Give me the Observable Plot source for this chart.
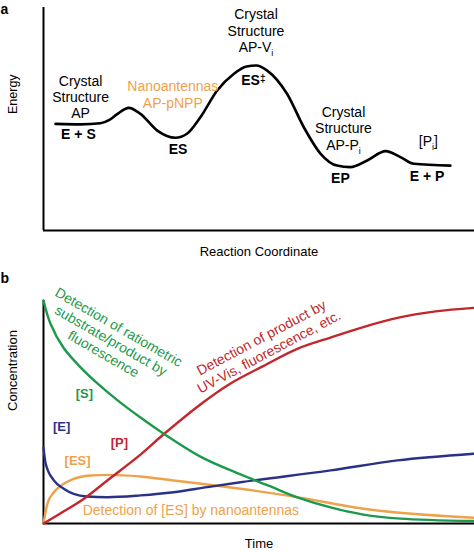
<!DOCTYPE html>
<html>
<head>
<meta charset="utf-8">
<script src="https://cdn.jsdelivr.net/npm/d3@7"></script>
<script src="https://cdn.jsdelivr.net/npm/@observablehq/plot@0.6"></script>
<style>
  body { margin: 0; background: white; }
  #chart { width: 474px; }
  #chart svg { display: block; }
</style>
</head>
<body>
<div id="chart"></div>
<script>
// ---------- Panel a: energy diagram ----------
const reactionCoord = [2.8, 8.6, 13.2, 15.3, 17.1, 19.8, 22.5, 26.4, 30.6, 33.3, 36.4, 40.3, 44.2, 47.1, 49.4, 51.9, 56.5, 60.4, 64.3, 68.1, 71.2, 75.1, 79.4, 82.8, 85.9, 94.4];
const energy        = [47.8, 47.6, 48.1, 49.6, 52.2, 55.0, 52.3, 44.8, 41.6, 43.4, 50.8, 62.8, 70.3, 73.5, 74.0, 71.7, 61.3, 46.3, 34.4, 29.1, 28.4, 31.4, 35.6, 32.9, 29.9, 29.1];

// ---------- Panel b: concentrations vs time ----------
const sTime = [0, 1.6, 4.6, 8.6, 12.5, 17.2, 22.5, 27.8, 36.4, 45.7, 52.7, 58.9, 66.6, 74.2, 82.8, 99.8];
const sConc = [100, 89.7, 78.9, 70.0, 62.8, 55.2, 47.5, 40.4, 30.0, 22.0, 16.6, 11.7, 7.2, 4.0, 2.2, 1.1];

const pTime = [0, 3.9, 9.3, 14.8, 22.5, 27.8, 36.4, 43.4, 51.0, 58.9, 66.6, 74.2, 82.1, 91.0, 99.8];
const pConc = [0, 4.5, 11.0, 19.3, 30.9, 39.9, 53.4, 62.8, 70.6, 78.3, 83.4, 88.1, 92.2, 95.1, 96.7];

const eTime = [0, 0.5, 2.4, 4.7, 7.0, 10.1, 14.8, 22.5, 30.2, 38.0, 45.7, 66.6, 82.1, 99.8];
const eConc = [34.1, 26.9, 19.3, 15.6, 13.3, 12.1, 11.8, 12.6, 14.0, 16.3, 18.5, 23.8, 28.3, 31.3];

const esTime = [0, 0.9, 2.4, 4.7, 7.0, 10.9, 14.8, 22.5, 30.2, 38.0, 45.7, 58.9, 74.3, 99.8];
const esConc = [0, 8.8, 14.0, 17.8, 20.0, 21.5, 21.8, 21.1, 19.3, 17.5, 15.6, 11.8, 6.6, 2.6];

const FONT = "'Liberation Sans', Arial, Helvetica, sans-serif";
const GREEN = "#1c9a4c", RED = "#c1272d", BLUE = "#2b3187", ORANGE = "#eea24c";

const toRows = (xs, ys) => xs.map((x, i) => ({x, y: ys[i]}));
const label = (text, x, y, opts = {}) => Plot.text([text], {x, y, text: d => d, fontSize: 14, ...opts});

const plotA = Plot.plot({
  width: 474, height: 262,
  marginLeft: 43, marginRight: 0, marginTop: 7, marginBottom: 32,
  x: {domain: [0, 100], axis: null},
  y: {domain: [0, 100], axis: null},
  style: {fontFamily: FONT, background: "white", overflow: "visible"},
  marks: [
    Plot.ruleX([0], {stroke: "black", strokeWidth: 2}),
    Plot.ruleY([0], {stroke: "black", strokeWidth: 2}),
    Plot.line(toRows(reactionCoord, energy), {x: "x", y: "y", curve: "monotone-x", stroke: "black", strokeWidth: 2.6}),
    label("Crystal\nStructure\nAP", 8.6, 59.8, {lineHeight: 1.15}),
    label("E + S", 8.1, 43.0, {fontWeight: "bold"}),
    label("Nanoantennas\nAP-pNPP", 30.0, 61.0, {lineHeight: 1.2, fill: ORANGE}),
    label("ES", 31.2, 36.3, {fontWeight: "bold"}),
    label("Crystal\nStructure\nAP-V_i", 49.3, 89.7, {lineHeight: 1.18}),
    label("ES‡", 48.7, 67.3, {fontWeight: "bold"}),
    label("Crystal\nStructure\nAP-P_i", 69.6, 45.9, {lineHeight: 1.18}),
    label("EP", 68.9, 23.5, {fontWeight: "bold"}),
    label("[P_i]", 89.3, 39.9),
    label("E + P", 89.0, 24.2, {fontWeight: "bold"}),
    Plot.text(["Energy"], {frameAnchor: "left", rotate: -90, dx: -30.5, dy: -5, fontSize: 12.5}),
    Plot.text(["Reaction Coordinate"], {frameAnchor: "bottom", dy: 25, fontSize: 13}),
    Plot.text(["a"], {frameAnchor: "top-left", textAnchor: "start", dx: -43, dy: -3.5, fontSize: 14, fontWeight: "bold"})
  ]
});

const plotB = Plot.plot({
  width: 474, height: 290,
  marginLeft: 43, marginRight: 0, marginTop: 38, marginBottom: 29,
  x: {domain: [0, 100], axis: null},
  y: {domain: [0, 100], axis: null},
  style: {fontFamily: FONT, background: "white", overflow: "visible"},
  marks: [
    Plot.ruleX([0], {stroke: "black", strokeWidth: 2}),
    Plot.ruleY([0], {stroke: "black", strokeWidth: 2}),
    Plot.line(toRows(esTime, esConc), {x: "x", y: "y", curve: "monotone-x", stroke: ORANGE, strokeWidth: 2.4}),
    Plot.line(toRows(eTime, eConc), {x: "x", y: "y", curve: "monotone-x", stroke: BLUE, strokeWidth: 2.4}),
    Plot.line(toRows(pTime, pConc), {x: "x", y: "y", curve: "catmull-rom", stroke: RED, strokeWidth: 2.4}),
    Plot.line(toRows(sTime, sConc), {x: "x", y: "y", curve: "catmull-rom", stroke: GREEN, strokeWidth: 2.4}),
    label("Detection of ratiometric\nsubstrate/product by\nfluorescence", 15.7, 82.1, {rotate: 30, lineHeight: 1.1, fill: GREEN}),
    label("Detection of product by\nUV-Vis, fluorescence, etc.", 51.4, 80.3, {rotate: -28, lineHeight: 1.15, fill: RED}),
    label("[S]", 9.5, 58.3, {fontWeight: "bold", fontSize: 13, fill: GREEN}),
    label("[E]", 4.2, 43.5, {fontWeight: "bold", fontSize: 13, fill: BLUE}),
    label("[P]", 17.6, 36.3, {fontWeight: "bold", fontSize: 13, fill: RED}),
    label("[ES]", 7.9, 28.3, {fontWeight: "bold", fontSize: 13, fill: ORANGE}),
    label("Detection of [ES] by nanoantennas", 34.2, 5.8, {fill: ORANGE}),
    Plot.text(["Concentration"], {frameAnchor: "left", rotate: -90, dx: -30.5, dy: -1, fontSize: 13}),
    Plot.text(["Time"], {frameAnchor: "bottom", dy: 24, fontSize: 13}),
    Plot.text(["b"], {frameAnchor: "top-left", textAnchor: "start", dx: -43, dy: -27.5, fontSize: 14, fontWeight: "bold"})
  ]
});

// subscripts / superscripts
function richText(svg) {
  const ns = "http://www.w3.org/2000/svg";
  const walker = document.createTreeWalker(svg, NodeFilter.SHOW_TEXT);
  const nodes = [];
  while (walker.nextNode()) {
    const v = walker.currentNode.nodeValue;
    if (v.includes("_i") || v.includes("‡")) nodes.push(walker.currentNode);
  }
  for (const node of nodes) {
    const parent = node.parentNode;
    const v = node.nodeValue;
    if (v.includes("_i")) {
      const [before, after] = v.split("_i");
      parent.insertBefore(document.createTextNode(before), node);
      const sub = document.createElementNS(ns, "tspan");
      sub.setAttribute("font-size", "9");
      sub.setAttribute("dy", "4");
      sub.textContent = "i";
      parent.insertBefore(sub, node);
      if (after) {
        const t = document.createElementNS(ns, "tspan");
        t.setAttribute("dy", "-4");
        t.textContent = after;
        parent.insertBefore(t, node);
      }
    } else {
      const [before, after] = v.split("‡");
      parent.insertBefore(document.createTextNode(before), node);
      const sup = document.createElementNS(ns, "tspan");
      sup.setAttribute("font-size", "10");
      sup.setAttribute("dy", "-3");
      sup.textContent = "‡";
      parent.insertBefore(sup, node);
    }
    parent.removeChild(node);
  }
}
richText(plotA);
richText(plotB);

const chart = document.getElementById("chart");
chart.appendChild(plotA);
chart.appendChild(plotB);
</script>
</body>
</html>
